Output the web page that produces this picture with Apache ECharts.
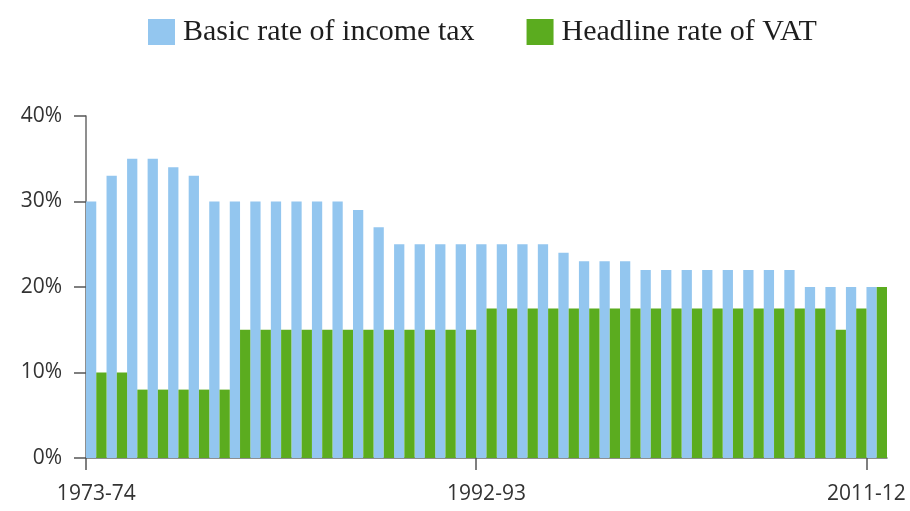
<!DOCTYPE html>
<html>
<head>
<meta charset="utf-8">
<script src="https://cdn.jsdelivr.net/npm/echarts@6/dist/echarts.min.js"></script>
<style>
html,body{margin:0;padding:0;background:#fff;overflow:hidden;}
#chart{width:910px;height:511px;}
</style>
</head>
<body>
<div id="chart"></div>
<script>
const categories = ['1973-74','1974-75','1975-76','1976-77','1977-78','1978-79','1979-80','1980-81','1981-82','1982-83','1983-84','1984-85','1985-86','1986-87','1987-88','1988-89','1989-90','1990-91','1991-92','1992-93','1993-94','1994-95','1995-96','1996-97','1997-98','1998-99','1999-00','2000-01','2001-02','2002-03','2003-04','2004-05','2005-06','2006-07','2007-08','2008-09','2009-10','2010-11','2011-12'];
const incomeTax = [30,33,35,35,34,33,30,30,30,30,30,30,30,29,27,25,25,25,25,25,25,25,25,24,23,23,23,22,22,22,22,22,22,22,22,20,20,20,20];
const vat = [10,10,8,8,8,8,8,15,15,15,15,15,15,15,15,15,15,15,15,17.5,17.5,17.5,17.5,17.5,17.5,17.5,17.5,17.5,17.5,17.5,17.5,17.5,17.5,17.5,17.5,17.5,15,17.5,20];
const tickLabels = ['1973-74','1992-93','2011-12'];
const yTicks = [0,10,20,30,40];

const chart = echarts.init(document.getElementById('chart'), null, {renderer:'canvas'});
const tickIdx = tickLabels.map(l => categories.indexOf(l));
const lastLabel = tickLabels[tickLabels.length - 1];
const labelFont = {fontFamily:'Open Sans', fontSize:21, color:'#333'};
chart.setOption({
  animation:false,
  legend:{
    left:143, top:12,
    itemWidth:27, itemHeight:26, itemGap:52,
    icon:'rect',
    textStyle:{fontFamily:'Liberation Serif', fontSize:30, color:'#1e1e1e', padding:[0,0,0,3]},
    data:['Basic rate of income tax','Headline rate of VAT']
  },
  grid:{left:86, right:23, top:116, bottom:53, containLabel:false, outerBoundsMode:'none'},
  xAxis:[{
    type:'category', data:categories, boundaryGap:true,
    axisLine:{show:true, lineStyle:{color:'#6a6a6a', width:1.5}},
    axisTick:{show:false},
    axisLabel:Object.assign({interval:(i,v)=>tickLabels.includes(v) && v !== lastLabel, margin:26}, labelFont)
  },{
    type:'value', min:0, max:categories.length, position:'bottom',
    axisLine:{show:false}, splitLine:{show:false},
    axisLabel:Object.assign({show:true, margin:26, customValues:[categories.indexOf(lastLabel)], formatter:v=>categories[Math.round(v)]}, labelFont),
    axisTick:{show:true, length:12, customValues:tickIdx, lineStyle:{color:'#555', width:1.5}}
  }],
  yAxis:{
    type:'value', min:0, max:40, interval:10,
    axisLine:{show:true, lineStyle:{color:'#6a6a6a', width:1.5}},
    axisTick:{show:true, length:12, lineStyle:{color:'#555', width:1.5}},
    splitLine:{show:false},
    axisLabel:Object.assign({formatter:'{value}%', margin:24, customValues:yTicks}, labelFont)
  },
  series:[
    {name:'Basic rate of income tax', type:'bar', data:incomeTax, barGap:'0%', barCategoryGap:'0%', itemStyle:{color:'#93c6ef'}},
    {name:'Headline rate of VAT', type:'bar', data:vat, barGap:'0%', barCategoryGap:'0%', itemStyle:{color:'#5bac1f'}}
  ]
});
</script>
</body>
</html>
